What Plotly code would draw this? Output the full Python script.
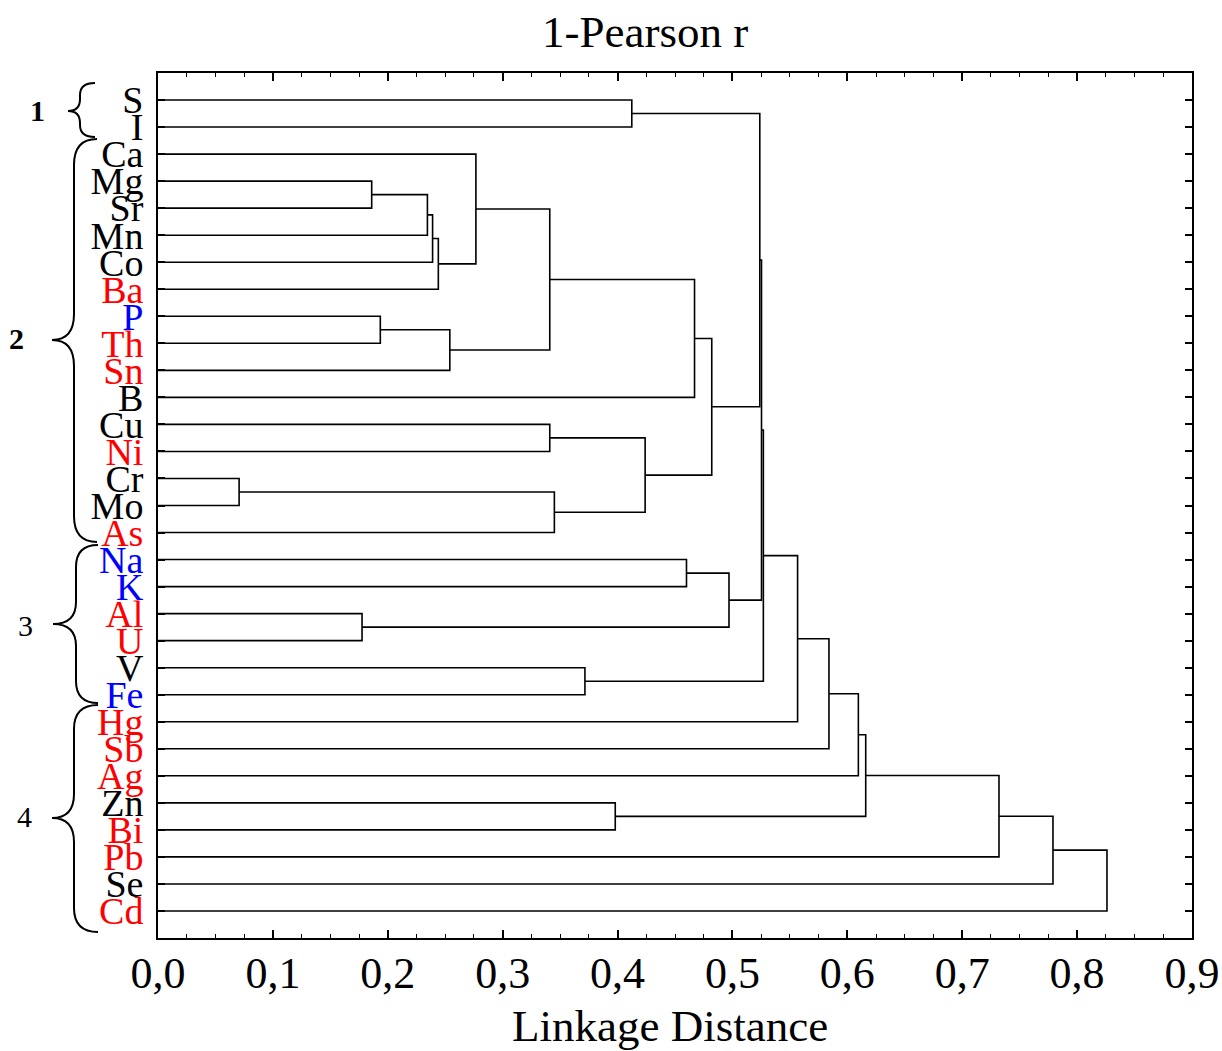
import plotly.graph_objects as go

# ---------------- data ----------------
leaves = ["S", "I", "Ca", "Mg", "Sr", "Mn", "Co", "Ba", "P", "Th", "Sn", "B", "Cu", "Ni",
          "Cr", "Mo", "As", "Na", "K", "Al", "U", "V", "Fe", "Hg", "Sb", "Ag", "Zn", "Bi",
          "Pb", "Se", "Cd"]
leaf_colors = ["black", "black", "black", "black", "black", "black", "black", "red", "blue",
               "red", "red", "black", "black", "red", "black", "black", "red", "blue", "blue",
               "red", "red", "black", "blue", "red", "red", "red", "black", "red", "red",
               "black", "red"]
# merges: (left member, right member, linkage distance); members are leaf names or merge ids "m<k>"
merges = [
    ("Cr", "Mo", 0.0706),    # m0
    ("Al", "U", 0.1776),     # m1
    ("Mg", "Sr", 0.1860),    # m2
    ("P", "Th", 0.1935),     # m3
    ("m2", "Mn", 0.2345),    # m4
    ("m4", "Co", 0.2390),    # m5
    ("m5", "Ba", 0.2440),    # m6
    ("m3", "Sn", 0.2540),    # m7
    ("Ca", "m6", 0.2767),    # m8
    ("Cu", "Ni", 0.3410),    # m9
    ("m8", "m7", 0.3410),    # m10
    ("m0", "As", 0.3450),    # m11
    ("V", "Fe", 0.3716),     # m12
    ("Zn", "Bi", 0.3980),    # m13
    ("S", "I", 0.4124),      # m14
    ("m9", "m11", 0.4240),   # m15
    ("Na", "K", 0.4600),     # m16
    ("m10", "B", 0.4670),    # m17
    ("m17", "m15", 0.4820),  # m18
    ("m16", "m1", 0.4970),   # m19
    ("m14", "m18", 0.5238),  # m20
    ("m20", "m19", 0.5253),  # m21
    ("m21", "m12", 0.5269),  # m22
    ("m22", "Hg", 0.5567),   # m23
    ("m23", "Sb", 0.5840),   # m24
    ("m24", "Ag", 0.6096),   # m25
    ("m25", "m13", 0.6160),  # m26
    ("m26", "Pb", 0.7320),   # m27
    ("m27", "Se", 0.7790),   # m28
    ("m28", "Cd", 0.8260),   # m29
]
groups = ["1", "2", "3", "4"]
x_ticks = [0.0, 0.1, 0.2, 0.3, 0.4, 0.5, 0.6, 0.7, 0.8, 0.9]
title = "1-Pearson r"
x_title = "Linkage Distance"

# ---------------- build dendrogram lines ----------------
pos = {name: (float(i), 0.0) for i, name in enumerate(leaves)}  # y index, height
xs, ys = [], []
for k, (a, b, d) in enumerate(merges):
    ya, ha = pos[a]
    yb, hb = pos[b]
    xs += [ha, d, d, hb, None]
    ys += [ya, ya, yb, yb, None]
    pos["m%d" % k] = ((ya + yb) / 2.0, d)

fig = go.Figure()
fig.add_trace(go.Scatter(x=xs, y=ys, mode="lines",
                         line=dict(color="black", width=1.6),
                         hoverinfo="skip", showlegend=False))

FONT = "Liberation Serif, Times New Roman, serif"

# ---------------- layout geometry (pixels; page body margin is removed below) ----------------
W, H = 1222, 1051
L, T = 158, 73
R = W - 1192
B = H - 938
pw, ph = W - L - R, H - T - B


def px(xs_screen):
    return (xs_screen - L) / pw


def py(ys_screen):
    return (T + ph - ys_screen) / ph


ticktext = ['<span style="color:%s">%s</span>' % (c, n) for n, c in zip(leaves, leaf_colors)]

fig.update_layout(
    width=W, height=H,
    margin=dict(l=L, r=R, t=T, b=B, autoexpand=False),
    paper_bgcolor="white", plot_bgcolor="white",
    separators=", ",
    showlegend=False,
    font=dict(family=FONT, color="black"),
    xaxis=dict(
        range=[0, 0.9], tickvals=x_ticks, tickformat=".1f",
        ticks="inside", ticklen=8, tickwidth=1.5, tickcolor="black",
        minor=dict(dtick=0.025, ticks="inside", ticklen=4, tickwidth=1.2, tickcolor="black"),
        showline=True, linecolor="black", linewidth=2, mirror="allticks",
        showgrid=False, zeroline=False, automargin=False,
        tickfont=dict(size=44, family=FONT, color="black"),
        ticklabelstandoff=-5,
    ),
    yaxis=dict(
        range=[31, -1], tickvals=list(range(len(leaves))), ticktext=ticktext,
        ticks="inside", ticklen=7, tickwidth=1.5, tickcolor="black",
        showline=True, linecolor="black", linewidth=2, mirror="allticks",
        showgrid=False, zeroline=False, automargin=False,
        tickfont=dict(size=38, family=FONT, color="black"),
        ticklabelstandoff=5,
    ),
)

# title and axis title
fig.add_annotation(text=title, xref="paper", yref="paper", x=px(645), y=py(32),
                   showarrow=False, xanchor="center", yanchor="middle",
                   font=dict(size=45, family=FONT, color="black"))
fig.add_annotation(text=x_title, xref="paper", yref="paper", x=px(670), y=py(1026),
                   showarrow=False, xanchor="center", yanchor="middle",
                   font=dict(size=45, family=FONT, color="black"))

# ---------------- braces & group numbers (screen pixel positions) ----------------
brace_px = [
    # top_y, bottom_y, end_x, spine_x, tip_x, mid_y, r, label_x, label_y, bold
    (83, 137, 95, 80, 68, 111, 12, 37, 110, True),
    (139, 542, 97, 74, 52, 340, 26, 16, 338, True),
    (545, 703, 98, 76, 53, 624, 22, 25, 625, False),
    (705, 932, 98, 74, 52, 818, 24, 24, 816, False),
]
for (y0, y1, xe, xs_, xt, ym, r, lx, ly, bold), g in zip(brace_px, groups):
    pts = [
        "M %.5f,%.5f" % (px(xe), py(y0)),
        "Q %.5f,%.5f %.5f,%.5f" % (px(xs_), py(y0), px(xs_), py(y0 + r)),
        "L %.5f,%.5f" % (px(xs_), py(ym - r)),
        "Q %.5f,%.5f %.5f,%.5f" % (px(xs_), py(ym), px(xt), py(ym)),
        "Q %.5f,%.5f %.5f,%.5f" % (px(xs_), py(ym), px(xs_), py(ym + r)),
        "L %.5f,%.5f" % (px(xs_), py(y1 - r)),
        "Q %.5f,%.5f %.5f,%.5f" % (px(xs_), py(y1), px(xe), py(y1)),
    ]
    fig.add_shape(type="path", path=" ".join(pts), xref="paper", yref="paper",
                  line=dict(color="black", width=2))
    fig.add_annotation(text=("<b>%s</b>" % g) if bold else g, xref="paper", yref="paper",
                       x=px(lx), y=py(ly), showarrow=False, xanchor="center", yanchor="middle",
                       font=dict(size=30, family=FONT, color="black"))

fig.write_html("out.html",
               config={"displayModeBar": False},
               post_script="document.body.style.margin='0px';document.body.style.overflow='hidden';")
